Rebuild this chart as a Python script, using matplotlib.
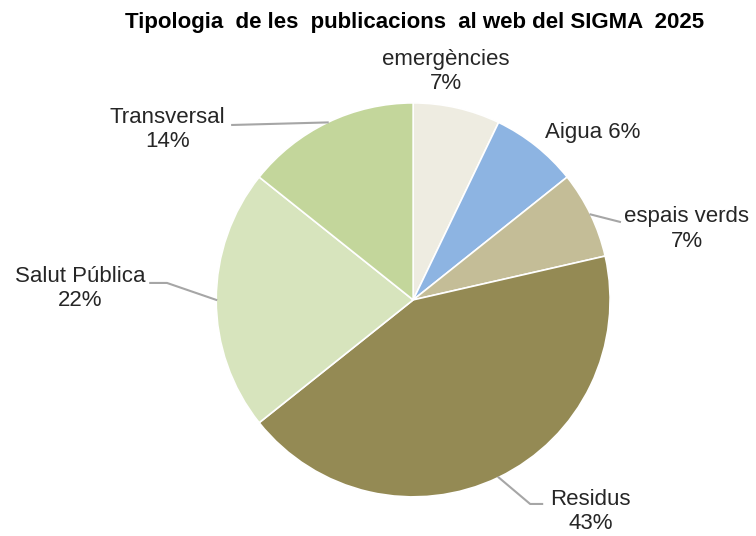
import numpy as np
import matplotlib
matplotlib.use("Agg")
import matplotlib.pyplot as plt

# data (counts; percentage labels as printed on the chart)
categories = ["emergències", "Aigua", "espais verds", "Residus", "Salut Pública", "Transversal"]
counts = [5, 5, 5, 30, 15, 10]
pct_labels = ["7%", "6%", "7%", "43%", "22%", "14%"]
colors = ["#EEECE1", "#8DB4E2", "#C4BD97", "#948A54", "#D7E4BD", "#C3D69B"]
title = "Tipologia  de les  publicacions  al web del SIGMA  2025"

plt.rcParams['font.family'] = ['Liberation Sans', 'DejaVu Sans']

fig = plt.figure(figsize=(7.56, 5.36), dpi=100)
ax = fig.add_axes([0.286, 0.073, 0.521, 0.735])
wedges, _ = ax.pie(counts, colors=colors, startangle=90, counterclock=False,
                   wedgeprops=dict(edgecolor="white", linewidth=1.2))
ax.set_xlim(-1, 1)
ax.set_ylim(-1, 1)
ax.set_aspect("auto")

# label centres (data coords) and leader line bends
label_xy = [(0.168, 1.16), (0.91, 0.848), (1.39, 0.36), (0.90, -1.075), (-1.69, 0.056), (-1.249, 0.863)]
texts = [categories[0] + "\n" + pct_labels[0], categories[1] + " " + pct_labels[1],
         categories[2] + "\n" + pct_labels[2], categories[3] + "\n" + pct_labels[3],
         categories[4] + "\n" + pct_labels[4], categories[5] + "\n" + pct_labels[5]]
leaders = {2: [(1.05, 0.396)],
           3: [(0.594, -1.036), (0.655, -1.036)],
           4: [(-1.25, 0.086), (-1.335, 0.086)],
           5: [(-0.919, 0.888)]}

for i, (w, (tx, ty), t) in enumerate(zip(wedges, label_xy, texts)):
    ax.text(tx, ty, t, ha="center", va="center", fontsize=16, color="#262626",
            linespacing=1.2, clip_on=False)
    if i in leaders:
        mid = np.deg2rad((w.theta1 + w.theta2) / 2)
        pts = [(np.cos(mid), np.sin(mid))] + leaders[i]
        xs, ys = zip(*pts)
        ax.plot(xs, ys, color="#A6A6A6", lw=1.5, clip_on=False)

fig.text(0.548, 0.958, title, ha="center", va="center", fontsize=16, fontweight="bold")

fig.savefig("out.png", dpi=100)
